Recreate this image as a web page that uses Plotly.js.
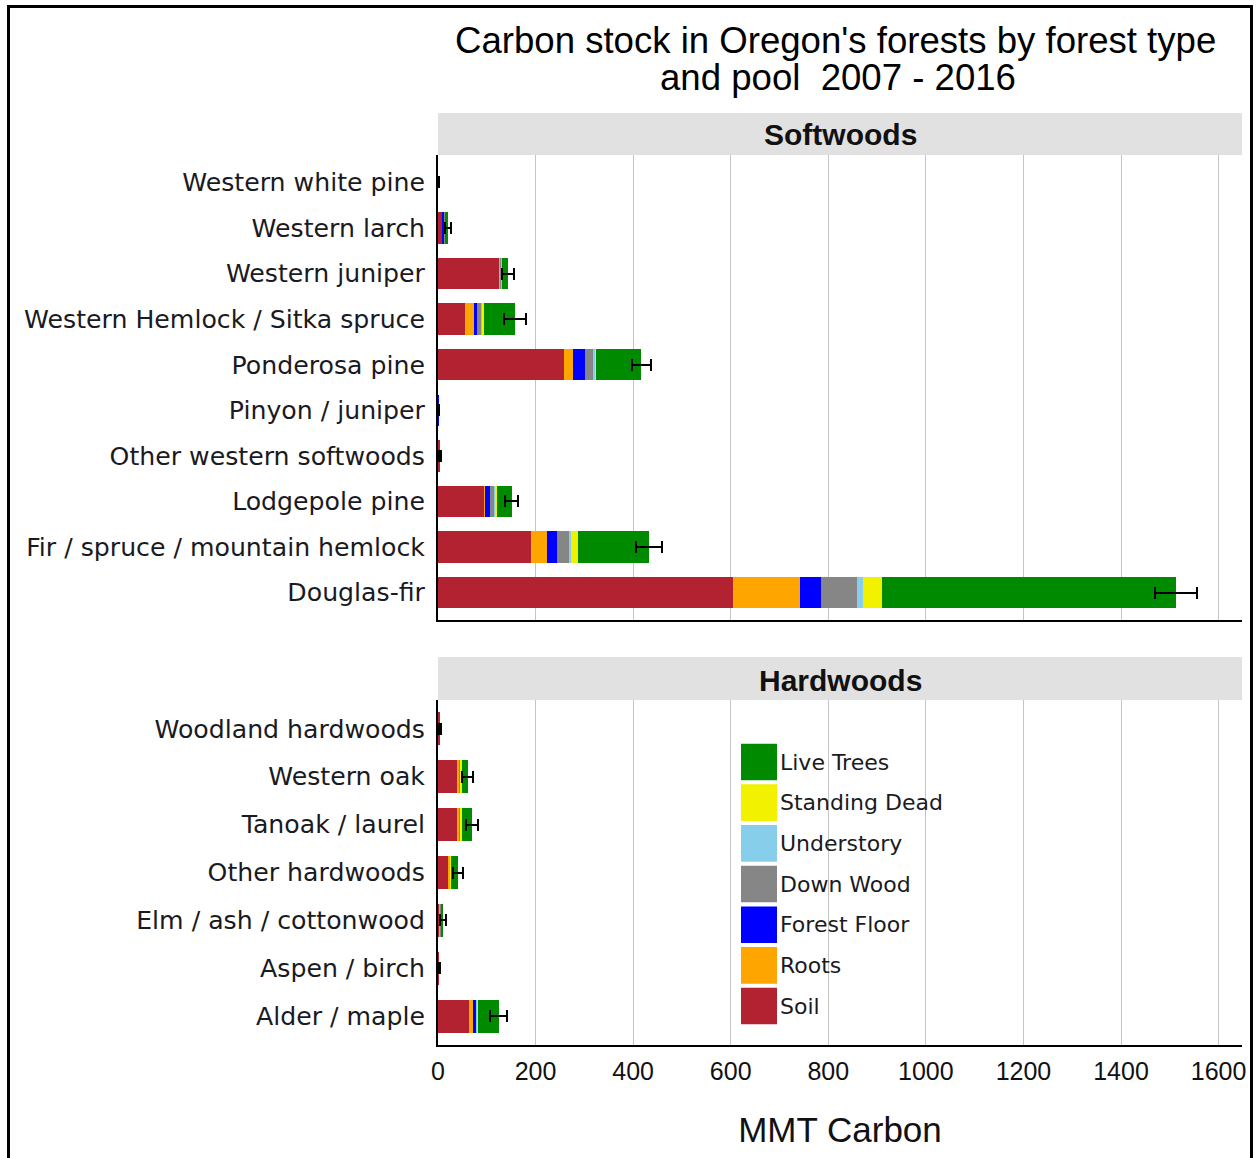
<!DOCTYPE html>
<html>
<head>
<meta charset="utf-8">
<script src="https://cdn.plot.ly/plotly-3.0.1.min.js"></script>
<style>
  html, body { margin:0; padding:0; background:#fff; overflow:hidden; }
  #frame { position:absolute; left:7px; top:5px; width:1240px; height:1200px; border:3px solid #000; border-bottom:none; pointer-events:none; z-index:5; }
  #chart { position:absolute; left:0; top:0; width:1259px; height:1158px; }
</style>
</head>
<body>
<div id="chart"></div>
<div id="frame"></div>
<script>
// ---- Data ----
const softCats = ["Western white pine","Western larch","Western juniper","Western Hemlock / Sitka spruce",
  "Ponderosa pine","Pinyon / juniper","Other western softwoods","Lodgepole pine",
  "Fir / spruce / mountain hemlock","Douglas-fir"];
const softSoil   = [0.4, 8, 125, 55, 258, 0.8, 1.5, 94, 190, 605];
const softRoots  = [0.1, 1, 2, 18, 19, 0.2, 0.3, 3, 34, 137];
const softFloor  = [0.1, 4, 0.5, 6, 24, 0.1, 0.3, 9, 19, 44];
const softDown   = [0.1, 1, 1, 9, 17, 0.1, 0.2, 9, 25, 72];
const softUnder  = [0, 0.5, 2, 2, 3, 0.1, 0.1, 2, 5, 13];
const softStand  = [0, 0.5, 1, 5, 3, 0, 0.1, 3, 14, 40];
const softLive   = [0.3, 6, 12, 63, 93, 0.3, 0.8, 31, 145, 601];
const softErr    = [1, 6, 12, 23, 20, 1.2, 2, 13, 27, 43];

const hardCats = ["Woodland hardwoods","Western oak","Tanoak / laurel","Other hardwoods",
  "Elm / ash / cottonwood","Aspen / birch","Alder / maple"];
const hardSoil   = [1.5, 38, 38, 21, 3, 1.5, 64];
const hardRoots  = [0.3, 5, 5, 3, 1, 0.3, 7];
const hardFloor  = [0.2, 0.5, 0.5, 0.3, 1, 0.2, 6];
const hardDown   = [0.2, 1, 1, 0.5, 1, 0.2, 1];
const hardUnder  = [0.1, 1, 1, 0.5, 0.5, 0.1, 1];
const hardStand  = [0.1, 3, 3, 0.5, 0.5, 0.1, 3];
const hardLive   = [0.8, 12, 21, 15, 3, 0.6, 42];
const hardErr    = [2, 12, 13, 10, 6, 2, 17];

const poolNames = ["Soil","Roots","Forest Floor","Down Wood","Understory","Standing Dead","Live Trees"];
const xTicks = [0,200,400,600,800,1000,1200,1400,1600];

// ---- Styles ----
const poolColors = ["#B22230","#FFA500","#0000FF","#868686","#87CEEB","#F2F200","#008A00"];
const softSeries = [softSoil, softRoots, softFloor, softDown, softUnder, softStand, softLive];
const hardSeries = [hardSoil, hardRoots, hardFloor, hardDown, hardUnder, hardStand, hardLive];

const traces = [];
function addPanel(series, cats, err, xa, ya) {
  series.forEach((vals, i) => {
    const t = {
      type: 'bar', orientation: 'h', name: poolNames[i],
      x: vals, y: cats, xaxis: xa, yaxis: ya,
      marker: { color: poolColors[i], line: { width: 0 } },
      showlegend: false, hoverinfo: 'skip'
    };
    if (i === series.length - 1) {
      t.error_x = { type: 'data', array: err, visible: true, color: '#000', thickness: 2, width: 6 };
    }
    traces.push(t);
  });
}
addPanel(softSeries, softCats, softErr, 'x', 'y');
addPanel(hardSeries, hardCats, hardErr, 'x2', 'y2');

// plot area geometry in px (for paper conversions)
const PT = 155, PB = 1045, PL = 438, PR = 1242;
const py = v => (PB - v) / (PB - PT);
const px = v => (v - PL) / (PR - PL);

const yLabFont = { family: 'DejaVu Sans, Verdana, sans-serif', size: 25.2, color: '#1a1a22' };
const xRange = [0, 1648];

const shapes = [
  // strips
  { type:'rect', xref:'paper', yref:'paper', x0:0, x1:1, y0:py(155), y1:py(113), fillcolor:'#e1e1e1', line:{width:0}, layer:'below' },
  { type:'rect', xref:'paper', yref:'paper', x0:0, x1:1, y0:py(700), y1:py(657), fillcolor:'#e1e1e1', line:{width:0}, layer:'below' }
];
const titleFont = {family:'Liberation Sans, Arial, sans-serif', size:36.6, color:'#000'};
const annotations = [
  { text:"Carbon stock in Oregon's forests by forest type", xref:'paper', yref:'paper', x:px(835), y:py(40), xanchor:'center', yanchor:'middle', showarrow:false, font:titleFont },
  { text:"and pool  2007 - 2016", xref:'paper', yref:'paper', x:px(838), y:py(77), xanchor:'center', yanchor:'middle', showarrow:false, font:titleFont },
  { text:"<b>Softwoods</b>", xref:'paper', yref:'paper', x:0.5, y:py(134), xanchor:'center', yanchor:'middle', showarrow:false, font:{family:'Liberation Sans, Arial, sans-serif', size:30, color:'#111'} },
  { text:"<b>Hardwoods</b>", xref:'paper', yref:'paper', x:0.5, y:py(681), xanchor:'center', yanchor:'middle', showarrow:false, font:{family:'Liberation Sans, Arial, sans-serif', size:30, color:'#111'} }
];
// custom legend (top entry = Live Trees)
const legTop = 762, legStep = 40.67;
for (let k = 0; k < poolNames.length; k++) {
  const i = poolNames.length - 1 - k;
  const cy = legTop + k * legStep;
  shapes.push({ type:'rect', xref:'paper', yref:'paper', x0:px(741), x1:px(777), y0:py(cy + 18.3), y1:py(cy - 18.3), fillcolor:poolColors[i], line:{width:0} });
  annotations.push({ text:poolNames[i], xref:'paper', yref:'paper', x:px(778), y:py(cy), xanchor:'left', yanchor:'middle', showarrow:false, font:{family:'DejaVu Sans, Verdana, sans-serif', size:22, color:'#1a1a22'} });
}

const layout = {
  width: 1259, height: 1158,
  margin: { l: PL, r: 1259 - PR, t: PT, b: 1158 - PB, pad: 0 },
  paper_bgcolor: 'rgba(0,0,0,0)', plot_bgcolor: 'rgba(0,0,0,0)',
  barmode: 'stack', bargap: 0.31,
  showlegend: false,
  xaxis: { anchor:'y', domain:[0,1], range:xRange, tickvals:xTicks, showticklabels:false, ticks:'',
           showgrid:true, gridcolor:'#c4c4c4', gridwidth:1, zeroline:false,
           showline:true, linecolor:'#000', linewidth:2 },
  yaxis: { anchor:'x', domain:[py(620), 1], type:'category', categoryorder:'array', categoryarray:softCats,
           range:[9.6, -0.6], ticks:'', ticklabelstandoff:6, tickfont:yLabFont,
           showgrid:false, zeroline:false, showline:true, linecolor:'#000', linewidth:2, automargin:false },
  xaxis2: { anchor:'y2', domain:[0,1], range:xRange, tickvals:xTicks, ticktext:xTicks.map(String), ticks:'',
           ticklabelstandoff:3,
           tickfont:{family:'Liberation Sans, Arial, sans-serif', size:25, color:'#111'},
           showgrid:true, gridcolor:'#c4c4c4', gridwidth:1, zeroline:false,
           showline:true, linecolor:'#000', linewidth:2, automargin:false,
           title:{ text:'MMT Carbon', font:{family:'Liberation Sans, Arial, sans-serif', size:35, color:'#111'}, standoff:33 } },
  yaxis2: { anchor:'x2', domain:[0, py(700)], type:'category', categoryorder:'array', categoryarray:hardCats,
           range:[6.6, -0.6], ticks:'', ticklabelstandoff:6, tickfont:yLabFont,
           showgrid:false, zeroline:false, showline:true, linecolor:'#000', linewidth:2, automargin:false },
  shapes: shapes,
  annotations: annotations
};

Plotly.newPlot('chart', traces, layout, { staticPlot: true, displayModeBar: false });
</script>
</body>
</html>
